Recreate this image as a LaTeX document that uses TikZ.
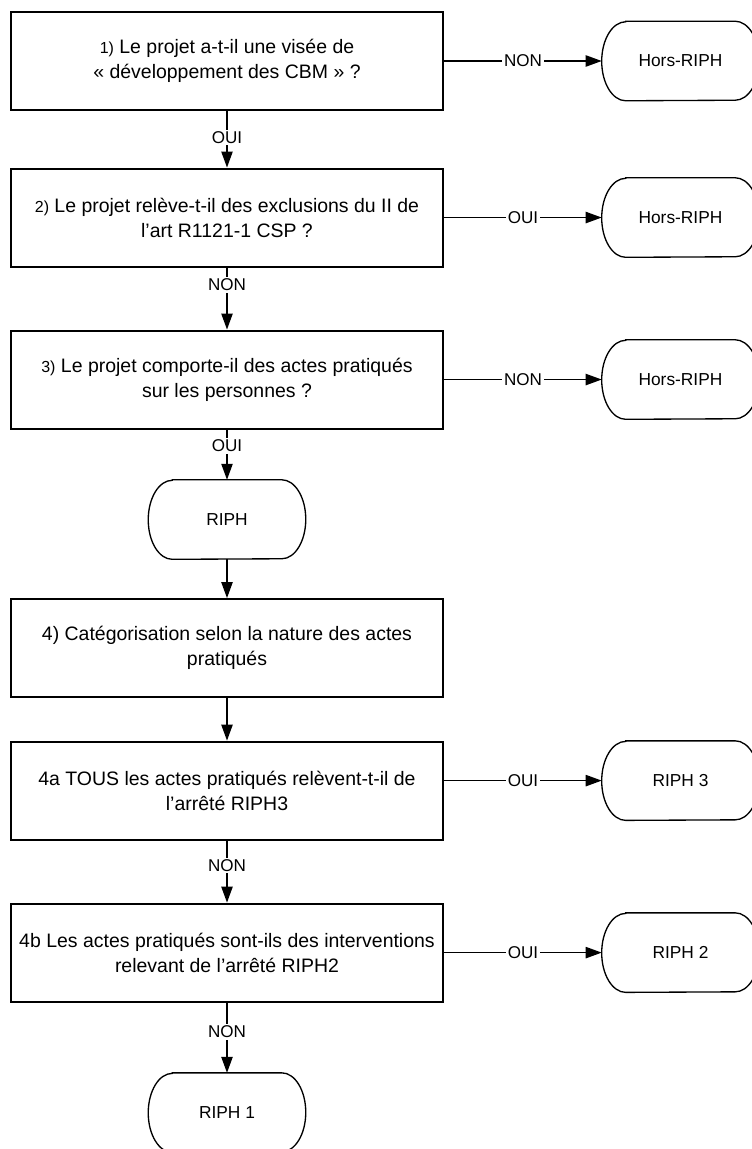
\documentclass[tikz,border=0pt]{standalone}
\usepackage{fontspec}
\setmainfont{Liberation Sans}
\usetikzlibrary{arrows.meta, positioning}

\newcommand{\qnum}[1]{{\fontsize{12pt}{15pt}\selectfont #1}}

\begin{document}
\begin{tikzpicture}[x=0.75pt, y=-0.75pt, on grid,
  question/.style={rectangle, draw, line width=1.5pt, minimum width=324.4pt, minimum height=73.5pt, inner sep=0pt, align=center, font=\fontsize{14.6pt}{18.8pt}\selectfont},
  terminal/.style={rectangle, minimum width=117.75pt, minimum height=59.25pt, inner sep=0pt, font=\fontsize{13pt}{15.6pt}\selectfont,
    append after command={\pgfextra{\draw[line width=1pt] ([xshift=18pt]\tikzlastnode.north west) -- ([xshift=-18pt]\tikzlastnode.north east)
      arc[start angle=90, end angle=-90, x radius=18pt, y radius=29.625pt] -- ([xshift=18pt]\tikzlastnode.south west)
      arc[start angle=270, end angle=90, x radius=18pt, y radius=29.625pt] -- cycle;}}},
  flow/.style={line width=1pt, -{Triangle[length=12pt, width=8.5pt]}},
  answer/.style={fill=white, inner sep=1.2pt, font=\fontsize{12.8pt}{15pt}\selectfont}]

  \useasboundingbox (0,0) rectangle (752,1149);

  \node[question] (q1) at (227,61) {\qnum{1)} Le projet a-t-il une visée de\\« développement des CBM » ?};
  \node[question, below=117.4pt of q1] (q2) {\qnum{2)} Le projet relève-t-il des exclusions du II de\\l’art R1121-1 CSP ?};
  \node[question, below=121.5pt of q2] (q3) {\qnum{3)} Le projet comporte-il des actes pratiqués\\sur les personnes ?};
  \node[terminal, below=105pt of q3] (riph) {RIPH};
  \node[question, below=96.4pt of riph] (q4) {4) Catégorisation selon la nature des actes\\pratiqués};
  \node[question, below=106.9pt of q4] (q4a) {4a TOUS les actes pratiqués relèvent-t-il de\\l’arrêté RIPH3};
  \node[question, below=121.5pt of q4a] (q4b) {4b Les actes pratiqués sont-ils des interventions\\relevant de l’arrêté RIPH2};
  \node[terminal, below=120pt of q4b] (riph1) {RIPH 1};

  \node[terminal, right=340.1pt of q1] (hors1) {Hors-RIPH};
  \node[terminal, right=340.1pt of q2] (hors2) {Hors-RIPH};
  \node[terminal, right=340.1pt of q3] (hors3) {Hors-RIPH};
  \node[terminal, above right=7.5pt and 340.1pt of q4a] (riph3) {RIPH 3};
  \node[terminal, right=340.1pt of q4b] (riph2) {RIPH 2};

  \path[flow]
    (q1) edge node[answer] {NON} (hors1)
    (q1) edge node[answer, pos=.47] {OUI} (q2)
    (q2) edge node[answer] {OUI} (hors2)
    (q2) edge node[answer, pos=.28] {NON} (q3)
    (q3) edge node[answer] {NON} (hors3)
    (q3) edge node[answer, pos=.33] {OUI} (riph)
    (riph) edge (q4)
    (q4) edge (q4a)
    (q4a.east |- riph3) edge node[answer] {OUI} (riph3)
    (q4a) edge node[answer, pos=.4] {NON} (q4b)
    (q4b) edge node[answer] {OUI} (riph2)
    (q4b) edge node[answer, pos=.42] {NON} (riph1);

\end{tikzpicture}
\end{document}
